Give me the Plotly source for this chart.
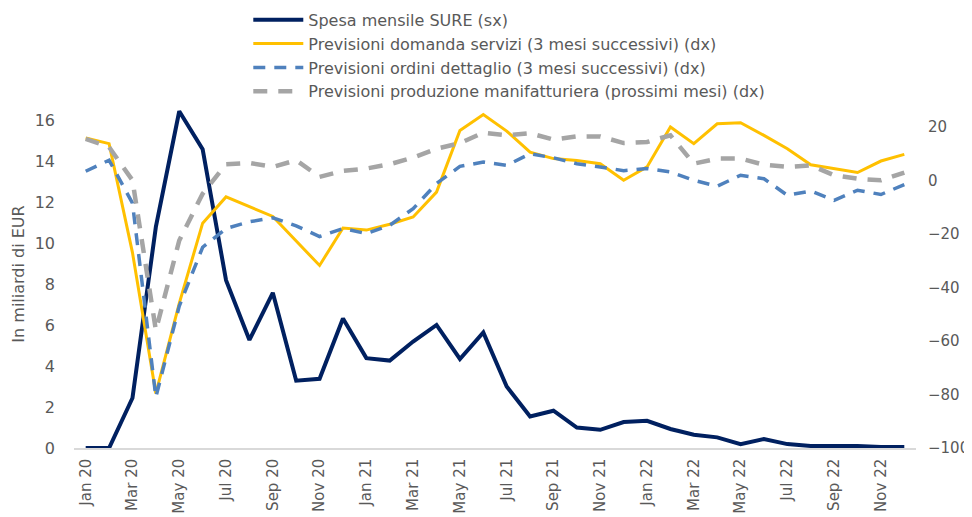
import plotly.graph_objects as go

mesi = ["Jan", "Feb", "Mar", "Apr", "May", "Jun", "Jul", "Aug", "Sep", "Oct", "Nov", "Dec"]
categorie = [f"{m} {a}" for a in ("20", "21", "22") for m in mesi]
tick_labels = categorie[::2]

spesa_sure = [0, 0, 2.44, 10.8, 16.45, 14.6, 8.2, 5.28, 7.58, 3.29, 3.38, 6.33,
              4.39, 4.27, 5.2, 6.01, 4.35, 5.65, 3.0, 1.54, 1.82, 1.0, 0.89, 1.27,
              1.33, 0.93, 0.65, 0.52, 0.19, 0.44, 0.19, 0.1, 0.1, 0.1, 0.05, 0.05]

domanda_servizi = [15.8, 13.7, -27, -79.6, -46, -16, -6.2, -9.8, -13.5, -22.7, -31.8, -17.8,
                   -18.6, -16.4, -13.7, -4.4, 18.6, 24.6, 18.4, 10.5, 8.1, 7.4, 6.2, 0,
                   5.0, 19.9, 13.7, 21.1, 21.5, 16.8, 11.8, 5.8, 4.4, 2.9, 7.2, 9.7]

ordini_dettaglio = [3.4, 7.5, -8.5, -81, -47, -25, -18, -15.5, -14, -17, -21, -18,
                    -19.9, -16.8, -10.6, -1.2, 5.2, 6.8, 5.6, 9.9, 8.4, 6.2, 5.0, 3.6,
                    4.4, 3.1, 0, -2.2, 1.9, 0.6, -5.6, -4.0, -7.5, -3.7, -5.3, -1.6]

produzione_manif = [15.5, 12.4, 0, -56, -22.5, -5, 6.0, 6.5, 5.0, 7.5, 1.3, 3.5,
                    4.4, 6.0, 8.5, 11.8, 13.9, 17.8, 16.8, 17.6, 15.2, 16.4, 16.4, 13.9,
                    14.3, 16.8, 6.2, 8.1, 8.1, 5.8, 5.0, 5.6, 1.9, 0.6, 0, 2.9]

FONT = "DejaVu Sans"
GREY_TXT = "#595959"

fig = go.Figure()
fig.add_trace(go.Scatter(x=categorie, y=spesa_sure, name="Spesa mensile SURE (sx)",
                         mode="lines", line=dict(color="#002060", width=4), yaxis="y"))
fig.add_trace(go.Scatter(x=categorie, y=domanda_servizi,
                         name="Previsioni domanda servizi (3 mesi successivi) (dx)",
                         mode="lines", line=dict(color="#FFC000", width=3), yaxis="y2"))
fig.add_trace(go.Scatter(x=categorie, y=ordini_dettaglio,
                         name="Previsioni ordini dettaglio (3 mesi successivi) (dx)",
                         mode="lines", line=dict(color="#4F81BD", width=3.5, dash="12px,9px"),
                         yaxis="y2"))
fig.add_trace(go.Scatter(x=categorie, y=produzione_manif,
                         name="Previsioni produzione manifatturiera (prossimi mesi) (dx)",
                         mode="lines", line=dict(color="#A5A5A5", width=4.5, dash="14px,11px"),
                         yaxis="y2"))

# the page adds an 8px body margin, so the figure is sized and placed to compensate
fig.update_layout(
    width=964, height=509,
    margin=dict(l=66, r=56, t=92, b=69, autoexpand=False),
    paper_bgcolor="white", plot_bgcolor="white",
    font=dict(family=FONT, size=16, color=GREY_TXT),
    showlegend=True,
    legend=dict(x=0.207, y=1.279, xanchor="left", yanchor="top",
                font=dict(family=FONT, size=16, color=GREY_TXT),
                bgcolor="rgba(0,0,0,0)", itemwidth=50, tracegroupgap=0),
    xaxis=dict(type="category", range=[-0.5, 35.5], tickmode="array",
               tickvals=tick_labels, ticktext=tick_labels, tickangle=-90,
               showgrid=False, zeroline=False, showline=True, linecolor="#D9D9D9",
               linewidth=1.5, ticks="", ticklabelstandoff=3,
               tickfont=dict(size=15, color=GREY_TXT)),
    yaxis=dict(range=[0, 17], tickmode="array", tickvals=list(range(0, 17, 2)),
               showgrid=False, zeroline=False, showline=False, ticks="",
               ticklabelstandoff=18, tickfont=dict(size=16, color=GREY_TXT),
               title=dict(text="In miliardi di EUR", standoff=6,
                          font=dict(size=16, color=GREY_TXT))),
    yaxis2=dict(range=[-100, 30], overlaying="y", side="right", tickmode="array",
                tickvals=list(range(-100, 21, 20)), showgrid=False, zeroline=False,
                showline=False, ticks="", ticklabelstandoff=11,
                tickfont=dict(size=15, color=GREY_TXT)),
)

fig.write_html("out.html")
